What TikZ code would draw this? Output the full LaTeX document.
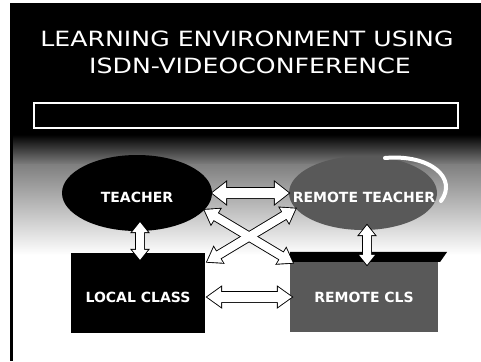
\documentclass[tikz,border=0pt]{standalone}
\usepackage{fontspec}
\newfontfamily\dvs{DejaVu Sans}
\usetikzlibrary{calc,shapes.geometric}
\tikzset{
  lbl/.style={text=white, font=\dvs\bfseries\fontsize{14}{16}\selectfont, inner sep=0pt},
  ttl/.style={text=white, font=\dvs\fontsize{21}{24}\selectfont, inner sep=0pt, anchor=base},
  arrline/.style={draw=black, fill=white, line width=1.8pt, line join=miter},
  arrfill/.style={fill=white, draw=none},
}
% #1 style, #2 from, #3 to, #4 shaft half width, #5 head half width, #6 head length
\newcommand\fatarrow[6]{%
  \path[#1] let \p1=($(#3)-(#2)$), \n1={atan2(\y1,\x1)}, \n2={veclen(\x1,\y1)} in
  ([shift={(#2)},rotate=\n1]0pt,0pt)
  -- ([shift={(#2)},rotate=\n1]#6pt,#5pt)
  -- ([shift={(#2)},rotate=\n1]#6pt,#4pt)
  -- ([shift={(#2)},rotate=\n1]\n2-#6pt,#4pt)
  -- ([shift={(#2)},rotate=\n1]\n2-#6pt,#5pt)
  -- ([shift={(#2)},rotate=\n1]\n2+0pt,0pt)
  -- ([shift={(#2)},rotate=\n1]\n2-#6pt,-#5pt)
  -- ([shift={(#2)},rotate=\n1]\n2-#6pt,-#4pt)
  -- ([shift={(#2)},rotate=\n1]#6pt,-#4pt)
  -- ([shift={(#2)},rotate=\n1]#6pt,-#5pt)
  -- cycle;}
\begin{document}
\begin{tikzpicture}[x=1pt,y=-1pt]
\useasboundingbox (0,0) rectangle (481,361);
% background
\fill[white] (0,0) rectangle (481,361);
\fill[black] (10,3) rectangle (481,135);
\shade[top color=black, bottom color=black!50] (10,134.5) rectangle (481,165);
\shade[top color=black!50, bottom color=white] (10,164.5) rectangle (481,255);
\fill[black] (10,3) rectangle (12.5,361);
% title
\node[ttl] (t1) at (247,47) {\scalebox{1.2}[1]{LEARNING ENVIRONMENT USING}};
\node[ttl] (t2) at (250,74) {\scalebox{1.2}[1]{ISDN-VIDEOCONFERENCE}};
\node[draw=white, fill=black, line width=1.2pt, minimum width=424pt, minimum height=25pt, inner sep=0pt] (bar) at (246,115.5) {};
% shapes
\node[ellipse, fill=black, minimum width=150pt, minimum height=76pt, inner sep=0pt] (teacher) at (137,193) {};
\node[ellipse, fill=black!65, minimum width=148pt, minimum height=74pt, inner sep=0pt] (rteacher) at (363,193) {};
\draw[white, line width=4pt, line cap=round] (385,158) .. controls (430,154) and (458,178) .. (441,201);
\node[fill=black, minimum width=134pt, minimum height=80pt, inner sep=0pt] (local) at (138,293) {};
\node[fill=black!65, minimum width=148pt, minimum height=80pt, inner sep=0pt] (rcls) at (364,292) {};
\fill[black] (rcls.north west) -- ($(rcls.north east)+(9,0)$) -- ($(rcls.north east)+(2,10)$) -- ($(rcls.north west)+(0,10)$) -- cycle;
% arrow ends
\coordinate (h1a) at (teacher.east);
\coordinate (h1b) at (rteacher.west);
\coordinate (x1a) at (teacher.-14);
\coordinate (x1b) at ($(rcls.north west)+(3,11)$);
\coordinate (x2a) at ($(local.north east)+(2,9)$);
\coordinate (x2b) at (rteacher.193);
\coordinate (v1a) at ($(teacher.south)+(3,-9)$);
\coordinate (v1b) at ($(local.north)+(2,7)$);
\coordinate (v2a) at ($(rteacher.south)+(4,-5)$);
\coordinate (v2b) at ($(rcls.north)+(3,13)$);
\coordinate (h2a) at ($(local.east)+(2,4)$);
\coordinate (h2b) at ($(rcls.west)+(2,5)$);
% arrows: outlines then fills
\foreach \st in {arrline,arrfill}{
  \fatarrow{\st}{h1a}{h1b}{5}{11}{14}
  \fatarrow{\st}{x1a}{x1b}{4}{9}{13}
  \fatarrow{\st}{x2a}{x2b}{4}{9}{13}
  \fatarrow{\st}{v1a}{v1b}{4}{8}{10}
  \fatarrow{\st}{v2a}{v2b}{4}{8}{10}
  \fatarrow{\st}{h2a}{h2b}{5}{10}{14}
}
% labels
\node[lbl] (lt) at (137,197) {TEACHER};
\node[lbl] (lrt) at (364,197) {REMOTE TEACHER};
\node[lbl] (ll) at (138,297) {LOCAL CLASS};
\node[lbl] (lrc) at (364,297) {REMOTE CLS};
\end{tikzpicture}
\end{document}
